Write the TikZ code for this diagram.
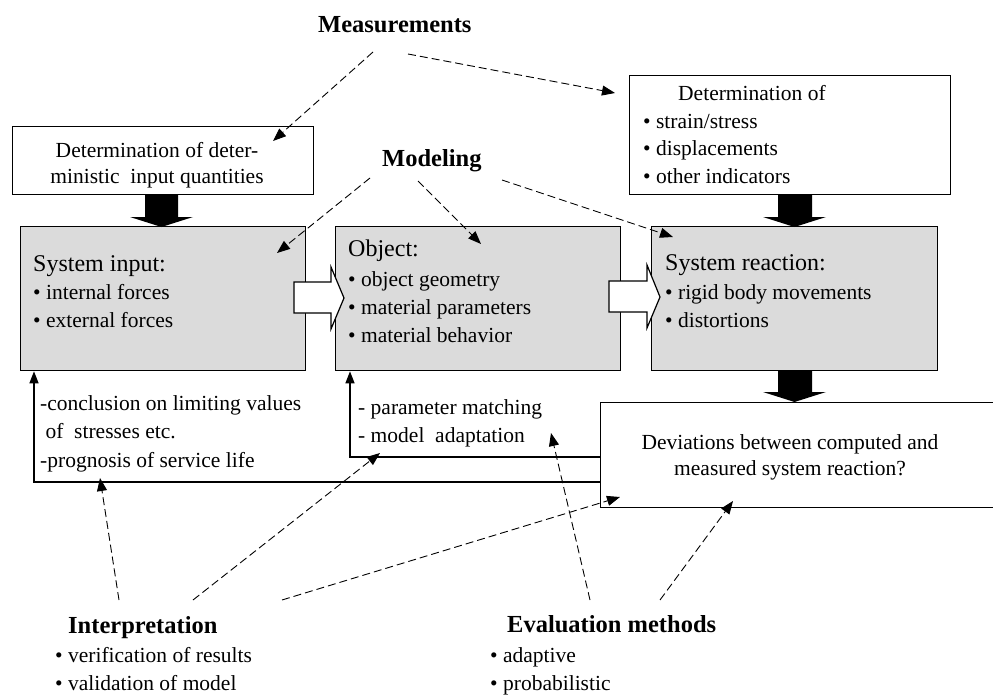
\documentclass[tikz,border=0pt]{standalone}
\usepackage{fontspec}
\setmainfont{Liberation Serif}
\usetikzlibrary{arrows.meta}
\begin{document}
\begin{tikzpicture}[x=1pt,y=-1pt,
  box/.style={draw, line width=1.3pt, inner sep=0pt, anchor=north west},
  graybox/.style={box, fill=black!14},
  txt/.style={inner sep=0pt, anchor=base west, font=\fontsize{21.5}{27.5}\selectfont, align=left},
  ctxt/.style={inner sep=0pt, anchor=base, font=\fontsize{21.5}{25.5}\selectfont, align=center},
  headtxt/.style={inner sep=0pt, anchor=base west, font=\fontsize{24}{28}\selectfont},
  lbl/.style={inner sep=0pt, anchor=base west, font=\fontsize{24.5}{28}\selectfont\bfseries},
  dasharrow/.style={line width=0.9pt, dash pattern=on 8pt off 4pt, -{Triangle[length=13pt,width=10pt]}},
  fbarrow/.style={line width=1.3pt, -{Triangle[length=12pt,width=9pt]}},
  blockarrow/.style={fill=black},
  hollowarrow/.style={fill=white, draw=black, line width=1.2pt, line join=miter},
]
\useasboundingbox (0,0) rectangle (993,698);
\clip (0,0) rectangle (993,698);

% boxes
\node[box, minimum width=301pt, minimum height=68pt] (detL) at (12,126) {};
\node[box, minimum width=321pt, minimum height=119pt] (detR) at (629,75) {};
\node[graybox, minimum width=285pt, minimum height=144pt] (sysin) at (20,226) {};
\node[graybox, minimum width=285pt, minimum height=144pt] (obj) at (335,226) {};
\node[graybox, minimum width=286pt, minimum height=144pt] (sysre) at (651,226) {};
\node[box, minimum width=420pt, minimum height=105pt] (dev) at (600,402) {};

% block arrows
\fill[blockarrow] (145,194) -- (178,194) -- (178,217) -- (193,217) -- (161.5,227) -- (130,217) -- (145,217) -- cycle;
\fill[blockarrow] (778,194) -- (812,194) -- (812,217) -- (826,217) -- (794.5,227) -- (763,217) -- (778,217) -- cycle;
\fill[blockarrow] (778,370) -- (812,370) -- (812,392) -- (826,392) -- (794.5,402) -- (763,392) -- (778,392) -- cycle;

% hollow arrows
\draw[hollowarrow] (294,282) -- (331,282) -- (331,267) -- (344,298) -- (331,329) -- (331,313) -- (294,313) -- cycle;
\draw[hollowarrow] (609,281) -- (647,281) -- (647,265) -- (660,297) -- (647,328) -- (647,312) -- (609,312) -- cycle;

% texts in boxes (multi-line nodes are anchored at the baseline of their last line)
\node[ctxt] (detLt) at (157,183) {Determination of deter-\\ministic\ \ input quantities};
\node[headtxt, font=\fontsize{21.5}{27.5}\selectfont] (detRh) at (678,101) {Determination of};
\node[txt] (detRt) at (643,183) {• strain/stress\\• displacements\\• other indicators};

\node[headtxt] (sysinh) at (33,271) {System input:};
\node[txt] (sysint) at (33,327) {• internal forces\\• external forces};

\node[headtxt] (objh) at (348,256) {Object:};
\node[txt, font=\fontsize{21.5}{28}\selectfont] (objt) at (348,342) {• object geometry\\• material parameters\\• material behavior};

\node[headtxt] (sysreh) at (665,270) {System reaction:};
\node[txt] (sysret) at (665,327) {• rigid body movements\\• distortions};

\node[ctxt, font=\fontsize{21.5}{26}\selectfont] (devt) at (790,475) {Deviations between computed and\\measured system reaction?};

% feedback texts
\node[txt, font=\fontsize{21.5}{28.5}\selectfont] (fb1) at (40,467) {-conclusion on limiting values\\\ of\ \ stresses etc.\\-prognosis of service life};
\node[txt, font=\fontsize{21.5}{28}\selectfont] (fb2) at (358,442) {- parameter matching\\- model\ \ adaptation};

% labels
\node[lbl] (meas) at (318,33) {Measurements};
\node[lbl] (model) at (382,166) {Modeling};
\node[lbl] (interp) at (68,633) {Interpretation};
\node[txt, font=\fontsize{21.5}{28}\selectfont] (interpt) at (55,690) {• verification of results\\• validation of model};
\node[lbl] (evalm) at (507,632) {Evaluation methods};
\node[txt, font=\fontsize{21.5}{28}\selectfont] (evalt) at (490,690) {• adaptive\\• probabilistic};

% feedback connectors
\coordinate (f1s) at (dev.west |- 0,482);
\coordinate (f2s) at (dev.west |- 0,457);
\draw[fbarrow] (f1s) -- (34,482) -- (sysin.south west -| 34,0);
\draw[fbarrow] (f2s) -- (350,457) -- (obj.south west -| 350,0);

% dashed connectors
\coordinate (m1s) at (373,52);  \coordinate (m1e) at (273,141);
\coordinate (m2s) at (408,54);  \coordinate (m2e) at (615,93);
\coordinate (d1s) at (370,178); \coordinate (d1e) at (277,253);
\coordinate (d2s) at (418,181); \coordinate (d2e) at (481,244);
\coordinate (d3s) at (502,180); \coordinate (d3e) at (673,237);
\coordinate (i1s) at (119,600); \coordinate (i1e) at (100,478);
\coordinate (i2s) at (193,600); \coordinate (i2e) at (380,453);
\coordinate (i3s) at (282,600); \coordinate (i3e) at (620,497);
\coordinate (e1s) at (590,600); \coordinate (e1e) at (551,433);
\coordinate (e2s) at (660,600); \coordinate (e2e) at (733,501);
\foreach \a in {m1,m2,d1,d2,d3,i1,i2,i3,e1,e2}
  \draw[dasharrow] (\a s) -- (\a e);
\end{tikzpicture}
\end{document}
